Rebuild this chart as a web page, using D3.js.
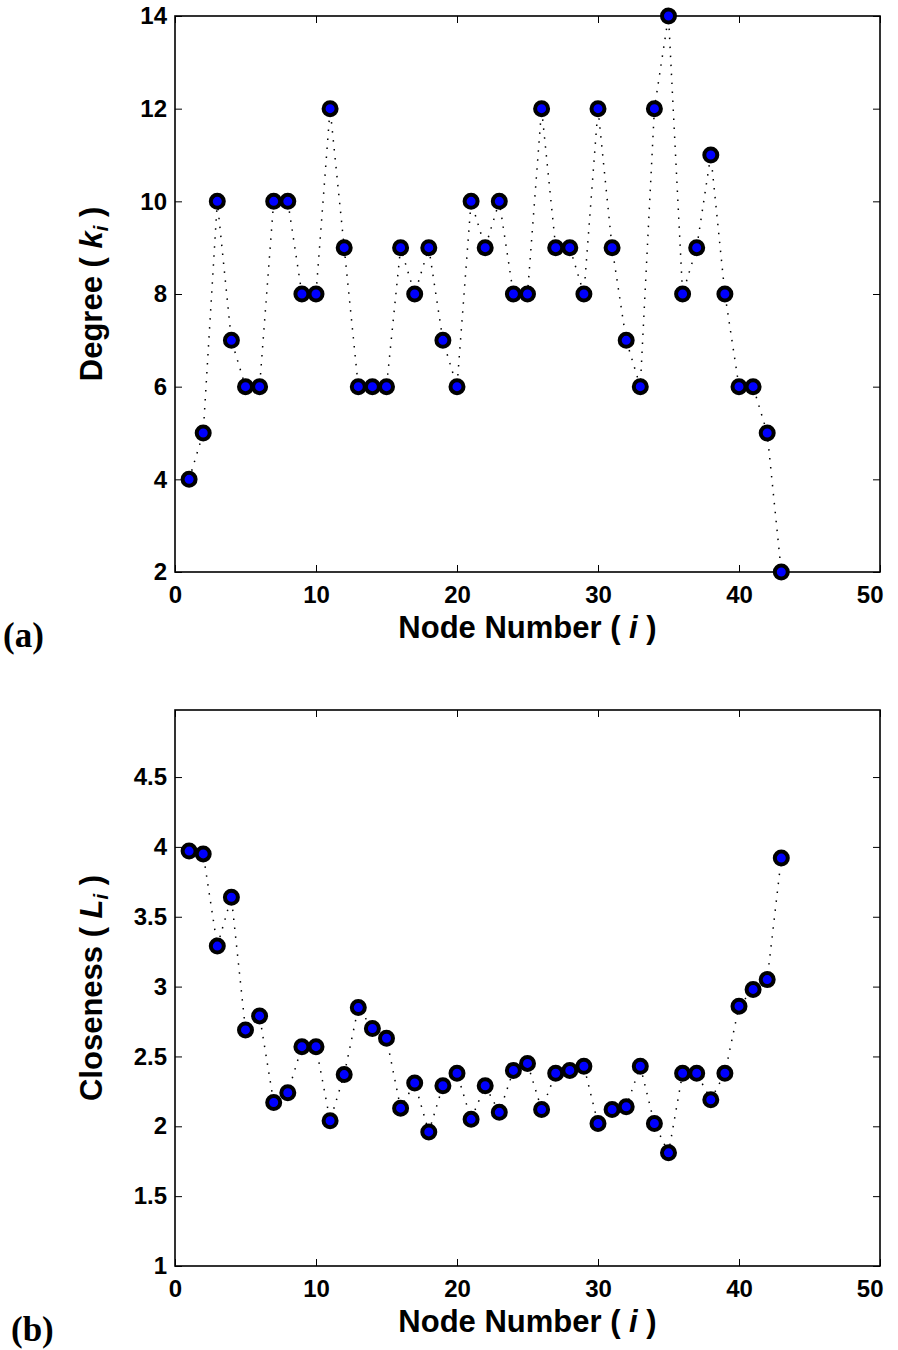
<!DOCTYPE html>
<html>
<head>
  <meta charset="utf-8">
  <style>
    body { margin: 0; background: #fff; }
    svg { display: block; }
    .tick line { stroke: #000; stroke-width: 1; }
    .tick text { font-family: "Liberation Sans", Arial, sans-serif; font-weight: bold; font-size: 24px; fill: #000; }
    .frame { fill: none; stroke: #000; stroke-width: 1.6; }
    .title { font-family: "Liberation Sans", Arial, sans-serif; font-weight: bold; font-size: 31px; fill: #000; }
    .tag { font-family: "Liberation Serif", "Times New Roman", serif; font-weight: bold; font-size: 35px; fill: #000; }
    .link { fill: none; stroke: #000; stroke-width: 1.5; stroke-dasharray: 1.5 7.5; }
    .dot { fill: #0000ff; stroke: #000; stroke-width: 4; }
  </style>
  <script src="https://cdn.jsdelivr.net/npm/d3@7"></script>
</head>
<body>
<script>
  // node numbers 1..43
  const nodes = d3.range(1, 44);

  // (a) degree k_i
  const degree = [4, 5, 10, 7, 6, 6, 10, 10, 8, 8, 12, 9, 6, 6, 6, 9, 8, 9, 7, 6,
    10, 9, 10, 8, 8, 12, 9, 9, 8, 12, 9, 7, 6, 12, 14, 8, 9, 11, 8, 6, 6, 5, 2];

  // (b) closeness L_i
  const closeness = [3.97, 3.95, 3.29, 3.64, 2.69, 2.79, 2.17, 2.24, 2.57, 2.57,
    2.04, 2.37, 2.85, 2.70, 2.63, 2.13, 2.31, 1.96, 2.29, 2.38, 2.05, 2.29, 2.10,
    2.40, 2.45, 2.12, 2.38, 2.40, 2.43, 2.02, 2.12, 2.14, 2.43, 2.02, 1.81, 2.38,
    2.38, 2.19, 2.38, 2.86, 2.98, 3.05, 3.92];

  const xTicks = [0, 10, 20, 30, 40, 50];
  const degreeTicks = [2, 4, 6, 8, 10, 12, 14];
  const closenessTicks = [1, 1.5, 2, 2.5, 3, 3.5, 4, 4.5];

  const W = 898, H = 1350;
  const svg = d3.select("body").append("svg").attr("width", W).attr("height", H);

  const left = 175, right = 880;
  const tickLen = 7;

  function panel(opts) {
    const x = d3.scaleLinear().domain([0, 50]).range([left, right]);
    const y = d3.scaleLinear().domain(opts.yDomain).range([opts.bottom, opts.top]);
    const g = svg.append("g");

    // axes, ticks pointing inward
    g.append("g").attr("transform", `translate(0,${opts.bottom})`)
      .call(d3.axisBottom(x).tickValues(xTicks).tickSizeInner(-tickLen).tickSizeOuter(0).tickPadding(14).tickFormat(d3.format("d")))
      .call(a => a.select(".domain").remove())
      .call(a => a.selectAll("text").attr("dy", "0.71em"))
      // last label is pulled in so it stays on the page
      .call(a => a.selectAll("text").filter(d => d === 50).attr("text-anchor", "end").attr("x", 3));
    g.append("g").attr("transform", `translate(0,${opts.top})`)
      .call(d3.axisTop(x).tickValues(xTicks).tickSizeInner(-tickLen).tickSizeOuter(0).tickFormat(""))
      .call(a => a.select(".domain").remove());
    g.append("g").attr("transform", `translate(${left},0)`)
      .call(d3.axisLeft(y).tickValues(opts.yTicks).tickSizeInner(-tickLen).tickSizeOuter(0).tickPadding(8).tickFormat(opts.fmt))
      .call(a => a.select(".domain").remove());
    g.append("g").attr("transform", `translate(${right},0)`)
      .call(d3.axisRight(y).tickValues(opts.yTicks).tickSizeInner(-tickLen).tickSizeOuter(0).tickFormat(""))
      .call(a => a.select(".domain").remove());

    g.append("rect").attr("class", "frame")
      .attr("x", left).attr("y", opts.top)
      .attr("width", right - left).attr("height", opts.bottom - opts.top);

    // dotted connecting line + markers
    const line = d3.line().x((d, i) => x(nodes[i])).y(d => y(d));
    g.append("path").datum(opts.values).attr("class", "link").attr("d", line);
    g.selectAll("circle.dot").data(opts.values).join("circle")
      .attr("class", "dot")
      .attr("cx", (d, i) => x(nodes[i]))
      .attr("cy", d => y(d))
      .attr("r", 6.5);

    // x title
    const xt = g.append("text").attr("class", "title")
      .attr("x", (left + right) / 2).attr("y", opts.bottom + 66)
      .attr("text-anchor", "middle");
    xt.append("tspan").text("Node Number ( ");
    xt.append("tspan").attr("font-style", "italic").text("i");
    xt.append("tspan").text(" )");

    // y title
    const yt = g.append("text").attr("class", "title")
      .attr("transform", `translate(102,${(opts.top + opts.bottom) / 2}) rotate(-90)`)
      .attr("text-anchor", "middle");
    yt.append("tspan").text(opts.yLabel + " ( ");
    yt.append("tspan").attr("font-style", "italic").text(opts.sym);
    yt.append("tspan").attr("font-style", "italic").attr("font-size", "20px").attr("dy", "6").text("i");
    yt.append("tspan").attr("dy", "-6").text(" )");

    svg.append("text").attr("class", "tag")
      .attr("x", opts.tagX).attr("y", opts.bottom + 75).text(opts.tag);
  }

  panel({
    values: degree, yDomain: [2, 14], yTicks: degreeTicks, fmt: d3.format("d"),
    top: 16, bottom: 572, yLabel: "Degree", sym: "k", tag: "(a)", tagX: 3
  });

  panel({
    values: closeness, yDomain: [1, 4.98], yTicks: closenessTicks, fmt: d => String(d),
    top: 710, bottom: 1266, yLabel: "Closeness", sym: "L", tag: "(b)", tagX: 11
  });
</script>
</body>
</html>
